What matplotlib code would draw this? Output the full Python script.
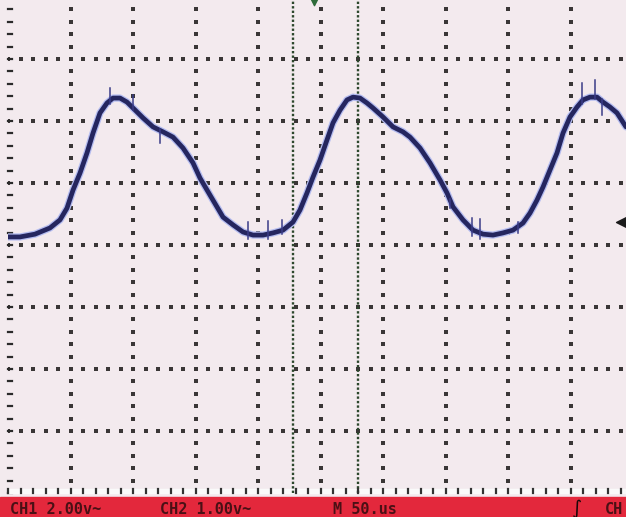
import numpy as np
import matplotlib
matplotlib.use('Agg')
import matplotlib.pyplot as plt
from matplotlib.patches import Rectangle

# scope settings
volts_per_div = 2.0
us_per_div = 50.0

# CH1 trace (time in us from left edge, volts from centre line)
time_us = [0, 9.6, 21.6, 33.6, 41.6, 47.2, 52, 57.6, 63.2, 68, 73.6, 79.2, 84, 89.6,
           95.2, 100, 108, 116, 124, 132, 140, 148, 153.6, 161.6, 172, 180, 188, 196,
           204, 212, 220, 228, 233.6, 239.2, 244, 249.6, 255.2, 260, 265.6, 271.2, 276,
           281.6, 287.2, 292, 300, 308, 316, 321.6, 329.6, 337.6, 345.6, 351.2, 356,
           364, 372, 380, 388, 396, 404, 412, 417.6, 423.2, 428, 433.6, 439.2, 444,
           449.6, 455.2, 460, 465.6, 471.2, 476, 481.6, 487.2, 494.4]
volts = [0.26, 0.26, 0.35, 0.55, 0.81, 1.19, 1.77, 2.32, 2.97, 3.61, 4.26, 4.58, 4.74, 4.74,
         4.61, 4.42, 4.10, 3.81, 3.65, 3.48, 3.13, 2.65, 2.16, 1.61, 0.90, 0.65, 0.42, 0.32,
         0.32, 0.39, 0.48, 0.74, 1.13, 1.68, 2.19, 2.74, 3.39, 3.94, 4.35, 4.68, 4.77,
         4.74, 4.58, 4.42, 4.13, 3.81, 3.65, 3.48, 3.13, 2.65, 2.10, 1.68, 1.23,
         0.81, 0.48, 0.35, 0.32, 0.39, 0.48, 0.71, 1.03, 1.45, 1.87, 2.42, 2.97, 3.61,
         4.13, 4.45, 4.68, 4.77, 4.77, 4.61, 4.45, 4.26, 3.81]

# noise spikes on the trace: time, low and high end (volts)
spike_t = [81.6, 100, 121.6, 192, 208, 219.2, 353.6, 371.2, 377.6, 408, 459.2, 469.6, 475.2]
spike_lo = [4.55, 4.35, 3.29, 0.20, 0.20, 0.35, 1.20, 0.30, 0.20, 0.40, 4.55, 4.70, 4.19]
spike_hi = [5.06, 4.84, 3.75, 0.74, 0.77, 0.81, 1.50, 0.87, 0.84, 0.74, 5.23, 5.32, 4.70]

# cursors (us)
cursor_t = [228.0, 280.0]

bar_labels = ['CH1 2.00v~', 'CH2 1.00v~', 'M 50.us', 'CH']

bg = '#f3eaee'
dot = '#3a3636'

fig = plt.figure(figsize=(6.26, 5.17), dpi=100)
fig.patch.set_facecolor(bg)
ax = fig.add_axes([8 / 626, 24 / 517, 625 / 626, 496 / 517])
ax.set_facecolor(bg)
ax.set_xlim(0, 10)
ax.set_ylim(-4, 4)
for s in ax.spines.values():
    s.set_visible(False)
ax.set_xticks([])
ax.set_yticks([])

# graticule dots
fine = np.arange(0, 10.01, 0.2)
fine_y = np.arange(-4, 4.01, 0.2)
for k in range(1, 10):
    size = 11 if k == 5 else 6.5
    ax.scatter(np.full(fine_y.size, k), fine_y, s=size, c=dot, marker='s', lw=0, zorder=2)
for k in range(-3, 4):
    size = 8 if k == 0 else 6.5
    ax.scatter(fine, np.full(fine.size, k), s=size, c=dot, marker='s', lw=0, zorder=2)

# edge ticks
for yy in fine_y:
    ax.plot([0, 0.06], [yy, yy], color='#2a2a2a', lw=1.6, zorder=2, clip_on=False)
ax.add_patch(Rectangle((0, -4.0), 10, 0.07, color='#fafafa', zorder=3, clip_on=False))
for xx in fine:
    ax.plot([xx, xx], [-4.0, -3.93], color='#333333', lw=1.6, zorder=4, clip_on=False)

# cursors
for c in cursor_t:
    ax.plot([c / us_per_div] * 2, [-4, 4], color='#2c472c', lw=1.7, ls=(0, (1, 0.9)), zorder=3)

# trace
tx = np.array(time_us) / us_per_div
ty = np.array(volts) / volts_per_div
ax.plot(tx, ty, color='#b4bcf0', lw=5.2, solid_capstyle='round', solid_joinstyle='round', zorder=4)
ax.plot(tx, ty, color='#25265f', lw=3.4, solid_capstyle='round', solid_joinstyle='round', zorder=5)
for t, lo, hi in zip(spike_t, spike_lo, spike_hi):
    x = t / us_per_div
    ax.plot([x, x], [lo / volts_per_div, hi / volts_per_div], color='#3a3c88', lw=1.1, zorder=5)

# markers: trigger position (top) and trigger level (right)
ax.scatter([4.9], [3.97], marker='v', s=80, c='#2f6b3a', zorder=6, clip_on=False)
ax.scatter([9.84], [0.37], marker='<', s=100, c='#1a1a1a', zorder=6, clip_on=False)

# status bar
fig.patches.append(Rectangle((0, 0), 1, 20 / 517, transform=fig.transFigure,
                             color='#e3283c', zorder=0))
tkw = dict(fontsize=11, family='DejaVu Sans Mono', weight='bold', color='#4a1015',
           va='center')
fig.text(10 / 626, 8 / 517, bar_labels[0], **tkw)
fig.text(160 / 626, 8 / 517, bar_labels[1], **tkw)
fig.text(333 / 626, 8 / 517, bar_labels[2], **tkw)
fig.text(605 / 626, 8 / 517, bar_labels[3], **tkw)
fig.text(572 / 626, 8 / 517, '\u222b', fontsize=14, color='#1a0808', va='center')

fig.savefig('out.png', dpi=100, facecolor=fig.get_facecolor())
